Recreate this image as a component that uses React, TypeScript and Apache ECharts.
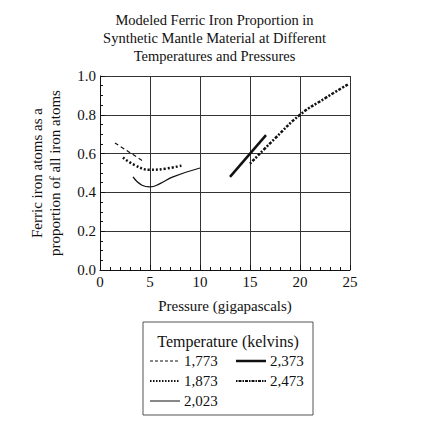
import { useEffect, useRef } from 'react';
import * as echarts from 'echarts';

const FONT = 'Liberation Serif';
const xTicks = [0, 5, 10, 15, 20, 25];
const yTicks = [0, 0.2, 0.4, 0.6, 0.8, 1.0];

const temps = ['1,773', '1,873', '2,023', '2,373', '2,473'];
const s1773 = [[1.5, 0.655], [4.2, 0.565]];
const s1873 = [[2.3, 0.58], [3.5, 0.54], [5.0, 0.517], [6.5, 0.522], [8.3, 0.54]];
const s2023 = [[3.3, 0.48], [4.2, 0.437], [5.0, 0.428], [6.0, 0.445], [7.3, 0.48], [10.0, 0.526]];
const s2373 = [[13.0, 0.48], [16.6, 0.695]];
const s2473 = [[15.0, 0.548], [17.5, 0.678], [20.0, 0.8], [22.5, 0.885], [24.9, 0.96]];

export default function App() {
  const ref = useRef<HTMLDivElement>(null);

  useEffect(() => {
    document.body.style.margin = '0';
    if (!ref.current) return;
    const chart = echarts.init(ref.current, null, { renderer: 'svg' });
    const txt = { fontFamily: FONT, fontSize: 15, fill: '#111' };
    const lx = 150, ly = 361;
    const legendItems = [
      { name: temps[0], x: lx, y: ly, dash: [3, 2], w: 1.2 },
      { name: temps[1], x: lx, y: ly + 20, dash: [1.5, 1.5], w: 2 },
      { name: temps[2], x: lx, y: ly + 40, dash: null, w: 1 },
      { name: temps[3], x: lx + 86, y: ly, dash: null, w: 2.5 },
      { name: temps[4], x: lx + 86, y: ly + 20, dash: [1.5, 1, 3, 1], w: 2 },
    ];
    const graphic: any[] = [
      { type: 'rect', shape: { x: 143, y: 322, width: 170, height: 93 }, style: { fill: '#fff', stroke: '#555', lineWidth: 1 } },
      { type: 'text', x: 228, y: 341, style: { ...txt, fontSize: 16, text: 'Temperature (kelvins)', textAlign: 'center', textVerticalAlign: 'middle' } },
    ];
    legendItems.forEach((it) => {
      graphic.push({ type: 'line', shape: { x1: it.x, y1: it.y, x2: it.x + 30, y2: it.y }, style: { stroke: '#111', lineWidth: it.w, lineDash: it.dash || undefined } });
      graphic.push({ type: 'text', x: it.x + 34, y: it.y, style: { ...txt, text: it.name, textVerticalAlign: 'middle' } });
    });

    const mk = (name: string, data: number[][], type: any, width: number) => ({
      name, type: 'line', data, showSymbol: false, smooth: true,
      lineStyle: { color: '#111', width, type },
    });

    chart.setOption({
      animation: false,
      title: {
        text: 'Modeled Ferric Iron Proportion in\nSynthetic Mantle Material at Different\nTemperatures and Pressures',
        left: 'center', top: 6,
        textStyle: { fontFamily: FONT, fontSize: 14.5, fontWeight: 'normal', color: '#111', lineHeight: 18 },
      },
      grid: { left: 100, right: 79, top: 76, bottom: 154 },
      xAxis: {
        type: 'value', min: 0, max: 25, interval: 5,
        name: 'Pressure (gigapascals)', nameLocation: 'middle', nameGap: 28,
        nameTextStyle: { fontFamily: FONT, fontSize: 15, color: '#111' },
        axisLine: { lineStyle: { color: '#111' } },
        axisTick: { show: true, inside: true, lineStyle: { color: '#111' } },
        minorTick: { show: true, splitNumber: 5 },
        axisLabel: { fontFamily: FONT, fontSize: 15, color: '#111', margin: 4, formatter: (v: number) => (xTicks.includes(v) ? String(v) : '') },
        splitLine: { lineStyle: { color: '#333', width: 1 } },
      },
      yAxis: {
        type: 'value', min: 0, max: 1, interval: 0.2,
        name: 'Ferric iron atoms as a\nproportion of all iron atoms', nameLocation: 'middle', nameGap: 36,
        nameTextStyle: { fontFamily: FONT, fontSize: 15, color: '#111', lineHeight: 18 },
        axisLine: { show: true, lineStyle: { color: '#111' } },
        axisTick: { show: true, inside: true, lineStyle: { color: '#111' } },
        minorTick: { show: true, splitNumber: 4 },
        axisLabel: { fontFamily: FONT, fontSize: 15, color: '#111', margin: 4, formatter: (v: number) => (yTicks.some((t) => Math.abs(t - v) < 1e-6) ? v.toFixed(1) : '') },
        splitLine: { lineStyle: { color: '#333', width: 1 } },
      },
      series: [
        mk(temps[0], s1773, [4, 3], 1.2),
        mk(temps[1], s1873, [2, 2], 2.5),
        mk(temps[2], s2023, 'solid', 1.2),
        mk(temps[3], s2373, 'solid', 2.5),
        mk(temps[4], s2473, [2, 1.5, 3, 1.5], 2.5),
      ],
      graphic,
    });
    return () => chart.dispose();
  }, []);

  return <div ref={ref} style={{ width: 429, height: 424 }} />;
}
